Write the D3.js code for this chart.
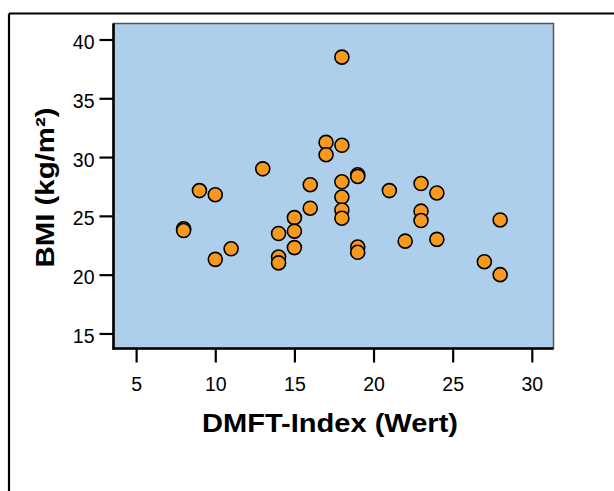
<!DOCTYPE html>
<html>
<head>
<meta charset="utf-8">
<script src="https://cdn.jsdelivr.net/npm/d3@7"></script>
<style>
  html, body { margin: 0; padding: 0; background: #fff; }
  svg { display: block; }
  text { font-family: "Liberation Sans", Arial, Helvetica, sans-serif; fill: #000; }
</style>
</head>
<body>
<svg id="chart" width="614" height="491"></svg>
<script>
// ---- data ----
const dmft = [8, 8, 9, 10, 10, 11, 13, 14, 14, 14, 15, 15, 15, 16, 16, 17, 17,
              18, 18, 18, 18, 18, 18, 19, 19, 19, 19, 21, 22, 23, 23, 23, 24, 24, 27, 28, 28];
const bmi  = [23.9, 23.75, 27.15, 26.8, 21.3, 22.2, 29.0, 23.5, 21.5, 21.0, 24.85, 23.7, 22.3, 27.65, 25.65, 31.25, 30.2,
              38.5, 31.0, 27.9, 26.6, 25.5, 24.8, 28.5, 28.35, 22.35, 21.9, 27.15, 22.85, 27.75, 25.4, 24.6, 26.95, 23.0, 21.1, 24.65, 20.0];
const xTicks = [5, 10, 15, 20, 25, 30];
const yTicks = [15, 20, 25, 30, 35, 40];
const xTitle = "DMFT-Index (Wert)";
const yTitle = "BMI (kg/m²)";

// ---- layout ----
const svg = d3.select("#chart");
const plot = { left: 113.5, top: 23.5, right: 553.5, bottom: 348.5 };

const x = d3.scaleLinear().domain([3.57, 31.37]).range([plot.left, plot.right]);
const y = d3.scaleLinear().domain([13.72, 41.36]).range([plot.bottom, plot.top]);

// outer frame (only top and left edges visible)
svg.append("line").attr("x1", 9).attr("y1", 13.5).attr("x2", 614).attr("y2", 13.5)
  .attr("stroke", "#000").attr("stroke-width", 2.2);
svg.append("line").attr("x1", 9).attr("y1", 13.5).attr("x2", 9).attr("y2", 491)
  .attr("stroke", "#000").attr("stroke-width", 2.2);

// plot background
svg.append("rect")
  .attr("x", plot.left).attr("y", plot.top)
  .attr("width", plot.right - plot.left).attr("height", plot.bottom - plot.top)
  .attr("fill", "#aecfec").attr("stroke", "#555").attr("stroke-width", 1.5);

// points
svg.append("g").selectAll("circle")
  .data(dmft.map((d, i) => ({ x: d, y: bmi[i] })))
  .join("circle")
  .attr("cx", d => x(d.x))
  .attr("cy", d => y(d.y))
  .attr("r", 7)
  .attr("fill", "#f7991f")
  .attr("stroke", "#000")
  .attr("stroke-width", 1.6);

// axes
const xAxis = d3.axisBottom(x).tickValues(xTicks).tickSize(14).tickPadding(0).tickFormat(d3.format("d"));
const yAxis = d3.axisLeft(y).tickValues(yTicks).tickSize(14).tickPadding(0).tickFormat(d3.format("d"));

const gx = svg.append("g").attr("transform", `translate(0,${plot.bottom})`).call(xAxis);
gx.select(".domain").attr("stroke", "#000").attr("stroke-width", 2.6)
  .attr("d", `M${plot.left - 1},0H${plot.right}`);
gx.selectAll(".tick line").attr("stroke", "#000").attr("stroke-width", 2.2);
gx.selectAll(".tick text")
  .attr("y", 42).attr("dy", null)
  .style("font-size", "19.5px").style("font-family", "Liberation Sans, Arial, sans-serif");

const gy = svg.append("g").attr("transform", `translate(${plot.left},0)`).call(yAxis);
gy.select(".domain").attr("stroke", "#000").attr("stroke-width", 2.6)
  .attr("d", `M0,${plot.top}V${plot.bottom + 1}`);
gy.selectAll(".tick line").attr("stroke", "#000").attr("stroke-width", 2.2);
gy.selectAll(".tick text")
  .attr("x", -19).attr("dy", null).attr("y", 9)
  .style("font-size", "19.5px").style("font-family", "Liberation Sans, Arial, sans-serif");

// axis titles
svg.append("text")
  .attr("x", 330).attr("y", 431.5)
  .attr("text-anchor", "middle")
  .attr("textLength", 256).attr("lengthAdjust", "spacingAndGlyphs")
  .style("font-size", "25px").style("font-weight", "bold")
  .text(xTitle);

svg.append("text")
  .attr("transform", "translate(53.5,187.5) rotate(-90)")
  .attr("text-anchor", "middle")
  .attr("textLength", 160).attr("lengthAdjust", "spacingAndGlyphs")
  .style("font-size", "25px").style("font-weight", "bold")
  .text(yTitle);
</script>
</body>
</html>
